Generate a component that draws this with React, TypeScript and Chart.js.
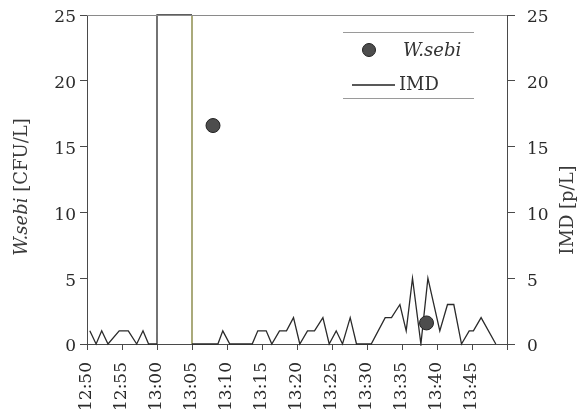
import React, { useEffect, useRef } from "react";
import { Chart, registerables } from "chart.js";

Chart.register(...registerables);

// x values are minutes after 12:50
const xTickLabels = ["12:50", "12:55", "13:00", "13:05", "13:10", "13:15", "13:20", "13:25", "13:30", "13:35", "13:40", "13:45", ""];
const yTicks = [0, 5, 10, 15, 20, 25];

const wsebiMinutes = [18.0, 48.5];
const wsebiValues = [16.6, 1.6];

const imdMinutes = [0.4, 1.3, 2.1, 3.0, 4.6, 5.9, 7.1, 8.0, 8.8, 10, 10, 15, 15, 18.7, 19.4, 20.4, 23.6, 24.4, 25.6, 26.4, 27.5, 28.5, 29.5, 30.4, 31.5, 32.5, 33.7, 34.6, 35.6, 36.5, 37.6, 38.5, 40.6, 42.6, 43.5, 44.7, 45.6, 46.5, 47.7, 48.7, 50.4, 51.5, 52.4, 53.5, 54.6, 55.2, 56.3, 58.4];
const imdValues = [1, 0, 1, 0, 1, 1, 0, 1, 0, 0, 25, 25, 0, 0, 1, 0, 0, 1, 1, 0, 1, 1, 2, 0, 1, 1, 2, 0, 1, 0, 2, 0, 0, 2, 2, 3, 1, 5, 0, 5, 1, 3, 3, 0, 1, 1, 2, 0];

const SERIF = "'DejaVu Serif', serif";

const decorPlugin = {
  id: "decor",
  afterDraw(chart: any) {
    const ctx = chart.ctx;
    const a = chart.chartArea;
    ctx.save();
    // top frame line
    ctx.strokeStyle = "#8a8a8a";
    ctx.lineWidth = 1;
    ctx.beginPath();
    ctx.moveTo(a.left, a.top + 0.5);
    ctx.lineTo(a.right, a.top + 0.5);
    ctx.stroke();

    // left title with italic part
    ctx.save();
    ctx.translate(22, 187);
    ctx.rotate(-Math.PI / 2);
    ctx.fillStyle = "#3a3a3a";
    ctx.textBaseline = "middle";
    const italicFont = "italic 18px " + SERIF;
    const normalFont = "18px " + SERIF;
    ctx.font = italicFont;
    const w1 = ctx.measureText("W.sebi").width;
    ctx.font = normalFont;
    const w2 = ctx.measureText(" [CFU/L]").width;
    const x = -(w1 + w2) / 2;
    ctx.font = italicFont;
    ctx.textAlign = "left";
    ctx.fillText("W.sebi", x, 0);
    ctx.font = normalFont;
    ctx.fillText(" [CFU/L]", x + w1, 0);
    ctx.restore();

    // right title
    ctx.save();
    ctx.translate(568, 210);
    ctx.rotate(-Math.PI / 2);
    ctx.fillStyle = "#3a3a3a";
    ctx.textBaseline = "middle";
    ctx.textAlign = "center";
    ctx.font = "18px " + SERIF;
    ctx.fillText("IMD [p/L]", 0, 0);
    ctx.restore();

    // legend
    const lx = a.right - 164;
    const ly = a.top + 17;
    ctx.strokeStyle = "#9a9a9a";
    ctx.beginPath();
    ctx.moveTo(lx, ly + 0.5);
    ctx.lineTo(lx + 131, ly + 0.5);
    ctx.moveTo(lx, ly + 66.5);
    ctx.lineTo(lx + 131, ly + 66.5);
    ctx.stroke();
    ctx.beginPath();
    ctx.arc(lx + 26, ly + 18, 6.5, 0, Math.PI * 2);
    ctx.fillStyle = "#4d4d4d";
    ctx.fill();
    ctx.strokeStyle = "#222";
    ctx.lineWidth = 1;
    ctx.stroke();
    ctx.fillStyle = "#333";
    ctx.textBaseline = "middle";
    ctx.textAlign = "left";
    ctx.font = "italic 18px " + SERIF;
    ctx.fillText("W.sebi", lx + 60, ly + 19);
    ctx.strokeStyle = "#222";
    ctx.lineWidth = 1.3;
    ctx.beginPath();
    ctx.moveTo(lx + 9, ly + 53);
    ctx.lineTo(lx + 52, ly + 53);
    ctx.stroke();
    ctx.font = "18px " + SERIF;
    ctx.fillText("IMD", lx + 56, ly + 53);
    ctx.restore();
  },
};

export default function App() {
  const ref = useRef<HTMLCanvasElement>(null);
  useEffect(() => {
    if (!ref.current) return;
    const axisColor = "#4a4a4a";
    const tickFont = { family: SERIF, size: 17 };
    const noPadV = (s: any) => { s.paddingTop = 0; s.paddingBottom = 0; };
    const chart = new Chart(ref.current, {
      type: "line",
      data: {
        datasets: [
          {
            type: "scatter",
            label: "W.sebi",
            data: wsebiMinutes.map((m, i) => ({ x: m, y: wsebiValues[i] })),
            yAxisID: "y",
            pointRadius: 7,
            pointBackgroundColor: "#4d4d4d",
            pointBorderColor: "#222",
            pointBorderWidth: 1,
            order: 0,
          } as any,
          {
            type: "line",
            label: "IMD",
            data: imdMinutes.map((m, i) => ({ x: m, y: imdValues[i] })),
            yAxisID: "y2",
            borderColor: "#2a2a2a",
            borderWidth: 1.3,
            pointRadius: 0,
            tension: 0,
            clip: 2,
            order: 1,
            segment: {
              borderColor: (c: any) => (c.p0DataIndex === 11 ? "#7d7d35" : undefined),
            },
          } as any,
        ],
      },
      options: {
        responsive: false,
        animation: false,
        layout: { padding: { top: 15, left: 0, right: 0, bottom: 0 } },
        plugins: { legend: { display: false }, tooltip: { enabled: false } },
        scales: {
          x: {
            type: "linear",
            min: 0,
            max: 60,
            afterFit: (s: any) => { s.height = 76; s.paddingLeft = 0; s.paddingRight = 0; },
            afterBuildTicks: (s: any) => { s.ticks = xTickLabels.map((_, i) => ({ value: i * 5 })); },
            ticks: {
              autoSkip: false,
              minRotation: 90,
              maxRotation: 90,
              padding: 12,
              color: "#2a2a2a",
              font: tickFont,
              callback: (_v: any, i: number) => xTickLabels[i],
            },
            grid: { drawOnChartArea: false, drawTicks: true, tickLength: 6, color: axisColor },
            border: { display: true, color: axisColor },
          },
          y: {
            position: "left",
            min: 0,
            max: 25,
            afterFit: (s: any) => { s.width = 87; noPadV(s); },
            afterBuildTicks: (s: any) => { s.ticks = yTicks.map((v) => ({ value: v })); },
            ticks: { padding: 4, color: "#2a2a2a", font: tickFont, labelOffset: 3 },
            grid: { drawOnChartArea: false, drawTicks: true, tickLength: 7, color: axisColor },
            border: { display: true, color: axisColor },
          },
          y2: {
            position: "right",
            min: 0,
            max: 25,
            afterFit: (s: any) => { s.width = 71; noPadV(s); },
            afterBuildTicks: (s: any) => { s.ticks = yTicks.map((v) => ({ value: v })); },
            ticks: { padding: 12, color: "#2a2a2a", font: tickFont, labelOffset: 3 },
            grid: { drawOnChartArea: false, drawTicks: true, tickLength: 8, color: axisColor },
            border: { display: true, color: axisColor },
          },
        },
      } as any,
      plugins: [decorPlugin],
    });
    return () => chart.destroy();
  }, []);
  return (
    <div style={{ position: "fixed", left: 0, top: 0, width: 578, height: 420, background: "#fff" }}>
      <canvas ref={ref} width={578} height={420} style={{ display: "block" }} />
    </div>
  );
}
